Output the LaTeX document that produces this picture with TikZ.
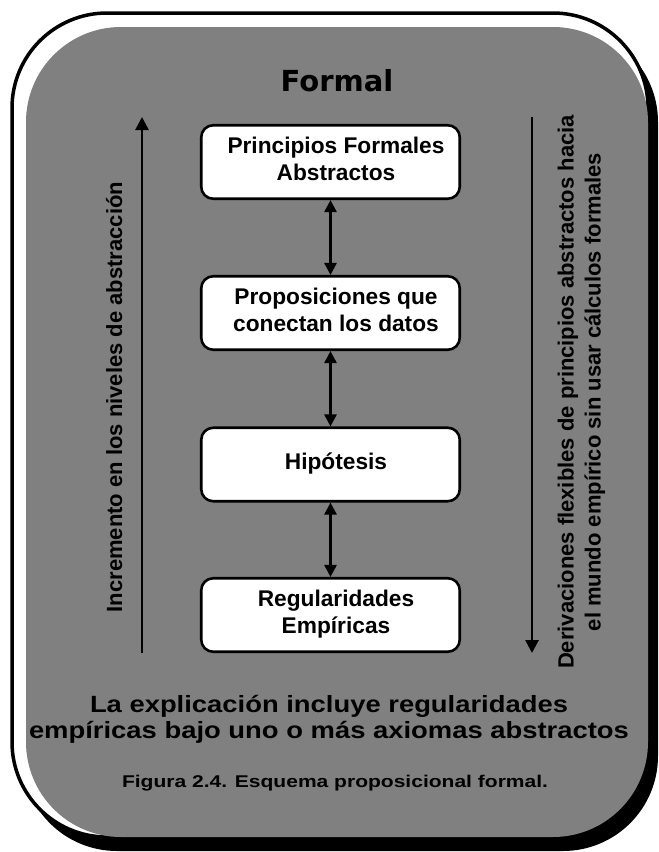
\documentclass[tikz,border=0pt]{standalone}
\usepackage{fontspec}
\usepackage{graphicx}
\setmainfont{Liberation Sans}[BoldFont={Liberation Sans Bold}]
\newfontfamily\heavy{Liberation Sans Bold}
\newfontfamily\titlefont{DejaVu Sans Bold}
\usetikzlibrary{arrows.meta}
\definecolor{panel}{RGB}{128,128,128}
\newsavebox\fitbox
\newcommand\fitw[2]{\sbox\fitbox{#2}\pgfmathsetmacro\fitscale{#1/\the\wd\fitbox}\scalebox{\fitscale}[1]{\usebox\fitbox}}
\newcommand\boxtext[1]{\begin{tabular}{@{\hspace{11pt}}c@{}}#1\end{tabular}}
\tikzset{
  stagebox/.style={draw=black, line width=2.6pt, fill=white, rounded corners=12pt,
    minimum width=258.5pt, minimum height=73.5pt, inner sep=0pt,
    font=\heavy\fontsize{22.7}{27}\selectfont},
  link/.style={line width=2.6pt, {Triangle[length=12pt,width=12pt]}-{Triangle[length=12pt,width=12pt]}},
  bigarrow/.style={line width=2.7pt, -{Triangle[length=13pt,width=13pt]}},
  sidetext/.style={rotate=90, inner sep=0pt, align=center, font=\heavy\fontsize{22}{27}\selectfont},
}
\begin{document}
\begin{tikzpicture}[x=1pt, y=-1pt]
\useasboundingbox (0,0) rectangle (659,852);
% frame: shadow, white outlined shape, grey panel
\fill[black, rounded corners=95pt] (22,27) rectangle (658,851);
\draw[black, fill=white, line width=3.5pt, rounded corners=95pt] (12,13) rectangle (648,837);
\fill[panel, rounded corners=95pt] (26,27) rectangle (648,837);

% title
\node[anchor=base, inner sep=0pt, font=\titlefont\fontsize{29}{34}\selectfont] (title) at (337,91.7) {Formal};

% boxes
\node[stagebox] (b1) at (330.5,162) {\boxtext{Principios Formales\\Abstractos}};
\node[stagebox] (b2) at (330.5,313) {\boxtext{Proposiciones que\\conectan los datos}};
\node[stagebox] (b3) at (330.5,464.5) {\boxtext{Hipótesis}};
\node[stagebox] (b4) at (330.5,615) {\boxtext{Regularidades\\Empíricas}};

\draw[link] (b1.south) -- (b2.north);
\draw[link] (b2.south) -- (b3.north);
\draw[link] (b3.south) -- (b4.north);

% side arrows
\coordinate (lb) at (142,653);
\coordinate (lt) at (142,117);
\coordinate (rt) at (532,117);
\coordinate (rb) at (532,653);
\draw[bigarrow] (lb) -- (lt);
\draw[bigarrow] (rt) -- (rb);

% side texts
\node[sidetext, anchor=base] (ltext) at (122,397) {Incremento en los niveles de abstracción};
\node[sidetext, anchor=center] (rtext) at (581.5,392) {Derivaciones flexibles de principios abstractos hacia\\el mundo empírico sin usar cálculos formales};

% bottom statement
\node[inner sep=0pt, align=center, font=\heavy\fontsize{23.5}{26}\selectfont] (stmt) at (329,719.5)
  {\fitw{478}{La explicación incluye regularidades}\\\fitw{600}{empíricas bajo uno o más axiomas abstractos}};

% caption
\node[anchor=base, inner sep=0pt, font=\heavy\fontsize{17}{20}\selectfont] (caption) at (335,787)
  {\fitw{426}{Figura 2.4. Esquema proposicional formal.}};
\end{tikzpicture}
\end{document}
